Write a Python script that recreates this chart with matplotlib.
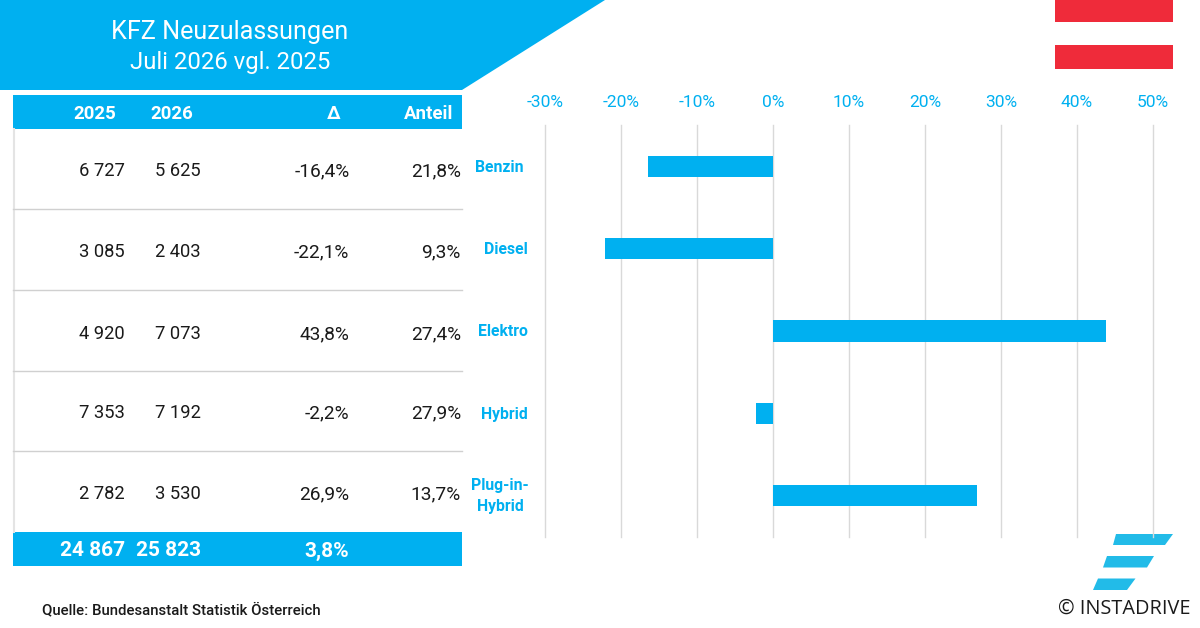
# KFZ Neuzulassungen: Tabelle links, Balken rechts
import matplotlib
matplotlib.use('Agg')
import matplotlib.pyplot as plt
from matplotlib.patches import Polygon, Rectangle

plt.rcParams['font.family'] = ['Roboto', 'DejaVu Sans']

# Daten
categories = ['Benzin', 'Diesel', 'Elektro', 'Hybrid', 'Plug-in-\nHybrid']
values_2025 = [6727, 3085, 4920, 7353, 2782]
values_2026 = [5625, 2403, 7073, 7192, 3530]
delta = [-16.4, -22.1, 43.8, -2.2, 26.9]
anteil = [21.8, 9.3, 27.4, 27.9, 13.7]
total_2025 = 24867
total_2026 = 25823
total_delta = 3.8
x_ticks = [-30, -20, -10, 0, 10, 20, 30, 40, 50]

BLUE = '#00B0F0'
LOGO = '#22BBE8'
RED = '#EF2B3A'
GRID = '#D9D9D9'
LINE = '#D0D0D0'
DARK = '#1A1A1A'
W, H = 1200, 628


def fmt_int(v):
    return f'{v:,}'.replace(',', ' ')


def fmt_pct(v):
    return f'{v:.1f}%'.replace('.', ',')


fig = plt.figure(figsize=(W / 100, H / 100), dpi=100, facecolor='white')

# Hintergrund in Pixelkoordinaten
bg = fig.add_axes([0, 0, 1, 1])
bg.set_xlim(0, W)
bg.set_ylim(H, 0)
bg.axis('off')

# Titelbanner und Flagge
bg.add_patch(Polygon([(0, 0), (605, 0), (462, 90), (0, 90)], fc=BLUE, ec='none'))
bg.text(230, 32.5, 'KFZ Neuzulassungen', color='white', fontsize=18.1, ha='center', va='center')
bg.text(230, 62.5, 'Juli 2026 vgl. 2025', color='white', fontsize=17.2, ha='center', va='center')
bg.add_patch(Rectangle((1055, 0), 118, 22, fc=RED, ec='none'))
bg.add_patch(Rectangle((1055, 45), 118, 24, fc=RED, ec='none'))

# Tabelle
bg.add_patch(Rectangle((13, 95), 449, 34, fc=BLUE, ec='none'))
bg.add_patch(Rectangle((13, 532), 449, 34, fc=BLUE, ec='none'))
bg.plot([13.5, 13.5], [129, 532], color='#E4E4E4', lw=1.5)
for y in [209, 290, 370.5, 451]:
    bg.plot([13, 462], [y, y], color=LINE, lw=1)

header = ['2025', '2026', 'Δ', 'Anteil']
for txt, x in zip(header, [116, 193, 340, 453]):
    bg.text(x, 114, txt, color='white', fontsize=13.4, fontweight='bold', ha='right', va='center')

row_y = [171, 252, 334, 413, 494]
for i, y in enumerate(row_y):
    bg.text(125, y, fmt_int(values_2025[i]), color=DARK, fontsize=13.2, ha='right', va='center')
    bg.text(201, y, fmt_int(values_2026[i]), color=DARK, fontsize=13.2, ha='right', va='center')
    bg.text(349.5, y, fmt_pct(delta[i]), color=DARK, fontsize=13.8, ha='right', va='center')
    bg.text(461, y, fmt_pct(anteil[i]), color=DARK, fontsize=13.8, ha='right', va='center')

bg.text(125, 551, fmt_int(total_2025), color='white', fontsize=15, fontweight='bold', ha='right', va='center')
bg.text(201, 551, fmt_int(total_2026), color='white', fontsize=15, fontweight='bold', ha='right', va='center')
bg.text(349, 551, fmt_pct(total_delta), color='white', fontsize=15, fontweight='bold', ha='right', va='center')

# Fusszeile und Logo
bg.text(42, 609.5, 'Quelle: Bundesanstalt Statistik Österreich', color=DARK, fontsize=10.8,
        fontweight='medium', ha='left', va='center')
bg.text(1190, 608.5, '© INSTADRIVE', color=DARK, fontsize=14.3, ha='right', va='center',
        family=['Open Sans', 'DejaVu Sans'])
logo_bars = [
    [(1116, 534), (1173, 534), (1165, 545), (1113, 545)],
    [(1107, 556), (1154, 556), (1147, 567.5), (1103, 567.5)],
    [(1098, 578.5), (1135.5, 578.5), (1127, 590), (1093, 590)],
]
for pts in logo_bars:
    bg.add_patch(Polygon(pts, fc=LOGO, ec='none', zorder=5))

# Balkendiagramm
ax = fig.add_axes([545 / W, 1 - 537 / H, (1153 - 545) / W, (537 - 125) / H])
ax.patch.set_alpha(0)
ax.barh(range(len(categories)), delta, height=0.255, color=BLUE, zorder=3)
ax.set_xlim(-30, 50)
ax.set_ylim(len(categories) - 0.5, -0.5)
ax.xaxis.tick_top()
ax.set_xticks(x_ticks)
ax.set_xticklabels([f'{t}%' for t in x_ticks], color=BLUE, fontsize=12.5)
ax.tick_params(axis='x', length=0, pad=11)
ax.set_yticks([])
ax.grid(axis='x', color=GRID, lw=1, zorder=0, clip_on=False)
for s in ax.spines.values():
    s.set_visible(False)

# Kategorien vor dem Diagramm
label_x = [524, 528, 528, 528, 529]
label_y = [167, 250, 332, 414, 496]
for name, x, y in zip(categories, label_x, label_y):
    bg.text(x, y, name, color=BLUE, fontsize=11.3, fontweight='bold', ha='right', va='center',
            multialignment='center', linespacing=1.45)

fig.savefig('out.png', dpi=100)
